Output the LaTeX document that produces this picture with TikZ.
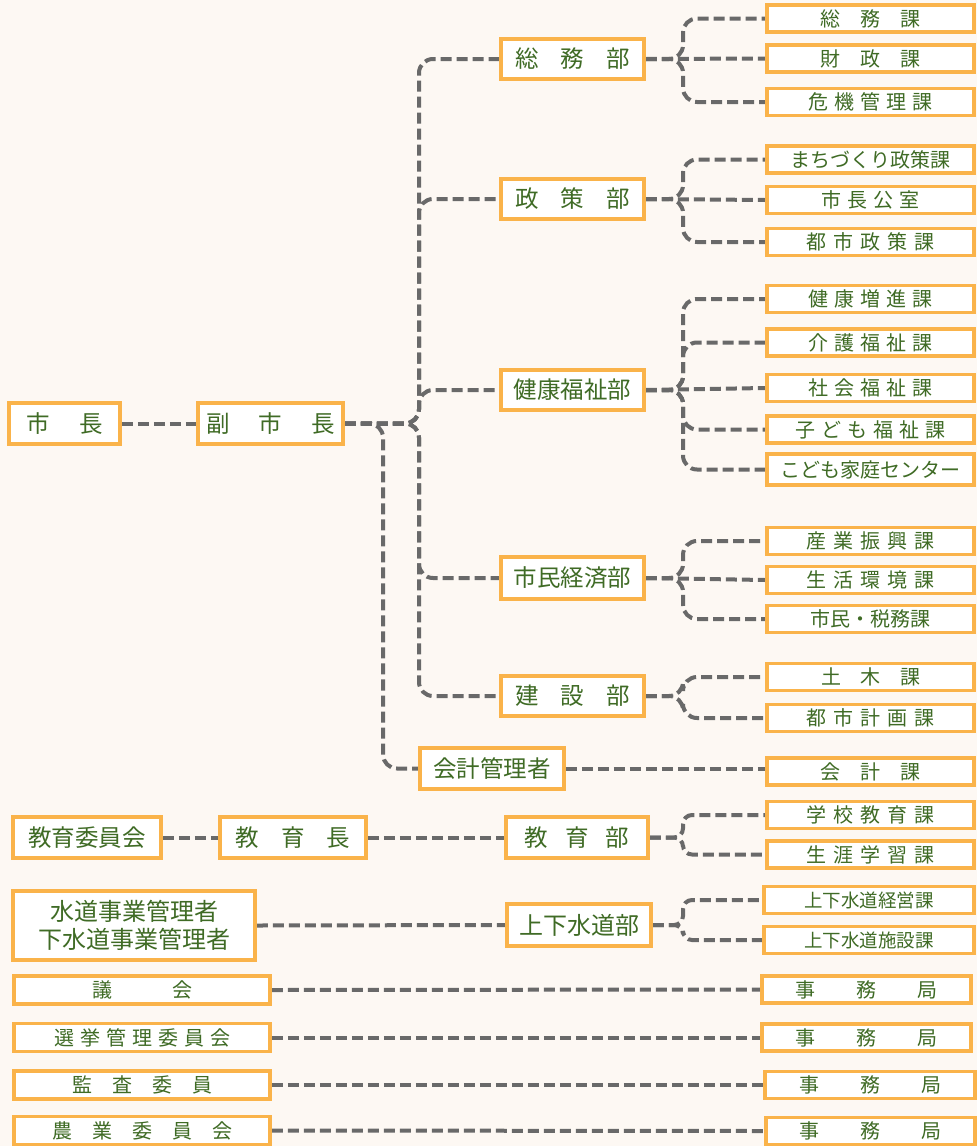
\documentclass[tikz,border=0pt]{standalone}
\usepackage{fontspec}
\setmainfont{Noto Sans CJK JP}
\definecolor{bgc}{HTML}{FDF8F3}
\definecolor{borange}{HTML}{FAB34A}
\definecolor{tgreen}{HTML}{3F6B25}
\definecolor{lgray}{HTML}{696969}
\newcommand{\kgap}[1]{\hspace*{#1pt}}
\pgfdeclarelayer{bglayer}
\pgfdeclarelayer{lineslayer}
\pgfsetlayers{bglayer,lineslayer,main}
\tikzset{
  box/.style={draw=borange, line width=3.8pt, fill=white, inner sep=0pt, text=tgreen,
    font=\fontsize{23.5}{26}\selectfont, minimum width=143pt, minimum height=41pt},
  sec/.style={box, font=\fontsize{20}{24}\selectfont, minimum width=207pt, minimum height=27pt},
  lbox/.style={box, font=\fontsize{20}{24}\selectfont, minimum width=256pt, minimum height=28pt},
  conn/.style={draw=lgray, line width=4pt, dash pattern=on 11pt off 5pt, rounded corners=14pt},
}
\begin{document}
\begin{tikzpicture}[x=1pt,y=-1pt]
\begin{pgfonlayer}{bglayer}
\fill[bgc] (0,0) rectangle (977,1146);
\end{pgfonlayer}
\useasboundingbox (0,0) rectangle (977,1146);
\coordinate (tM) at (419,0);
\coordinate (tK) at (383,0);
\coordinate (tS) at (683,0);
% main chain
\node[box, minimum width=111pt] (shicho) at (64.5,423.5) {市\kgap{30}長};
\node[box, minimum width=145pt] (fuku) at (270.5,423.5) {副\kgap{29}市\kgap{29}長};
\node[box, minimum height=40pt] (somubu) at (572.5,59) {総\kgap{22}務\kgap{22}部};
\node[box, minimum height=40pt] (seisakubu) at (572.5,199) {政\kgap{22}策\kgap{22}部};
\node[box, minimum height=40pt] (kenkobu) at (572.5,390) {健康福祉部};
\node[box, minimum height=42pt] (shiminbu) at (572.5,578) {市民経済部};
\node[box, minimum height=40pt] (kensetsubu) at (572.5,696) {建\kgap{22}設\kgap{22}部};
\node[box, minimum width=144pt] (kaikei) at (492,768.5) {会計管理者};
\node[box, minimum width=148pt] (kyoiin) at (87,837.5) {教育委員会};
\node[box, minimum width=146pt] (kyoikucho) at (293,837.5) {教\kgap{22}育\kgap{22}長};
\node[box, minimum width=142pt] (kyoikubu) at (577,837.5) {教\kgap{17}育\kgap{17}部};
\node[box, minimum width=242pt, minimum height=69pt, align=center, font=\fontsize{24}{27.5}\selectfont] (suido) at (134,925.5) {水道事業管理者\\下水道事業管理者};
\node[box, minimum width=144pt, minimum height=42pt, font=\fontsize{24}{26}\selectfont] (jogebu) at (579,925) {上下水道部};
\node[lbox] (gikai) at (142,990) {議\kgap{60}会};
\node[lbox] (senkyo) at (142,1037.5) {選\kgap{6}挙\kgap{6}管\kgap{6}理\kgap{6}委\kgap{6}員\kgap{6}会};
\node[lbox] (kansa) at (142,1085) {監\kgap{20}査\kgap{20}委\kgap{20}員};
\node[lbox] (nogyo) at (142,1130.5) {農\kgap{20}業\kgap{20}委\kgap{20}員\kgap{20}会};
% sections
\node[sec] (somuka) at (870.5,18.5) {総\kgap{20}務\kgap{20}課};
\node[sec] (zaiseika) at (870.5,58.5) {財\kgap{20}政\kgap{20}課};
\node[sec] (kikika) at (870.5,102) {危\kgap{6}機\kgap{6}管\kgap{6}理\kgap{6}課};
\node[sec] (machika) at (870.5,159.5) {まちづくり政策課};
\node[sec] (shichoko) at (870.5,200) {市\kgap{6}長\kgap{6}公\kgap{6}室};
\node[sec] (toshisei) at (870.5,242) {都\kgap{7}市\kgap{7}政\kgap{7}策\kgap{7}課};
\node[sec] (kenzo) at (870.5,299) {健\kgap{6}康\kgap{6}増\kgap{6}進\kgap{6}課};
\node[sec] (kaigo) at (870.5,342.5) {介\kgap{6}護\kgap{6}福\kgap{6}祉\kgap{6}課};
\node[sec] (shakai) at (870.5,388) {社\kgap{6}会\kgap{6}福\kgap{6}祉\kgap{6}課};
\node[sec] (kodomofuku) at (870.5,429.5) {子\kgap{6}ど\kgap{6}も\kgap{6}福\kgap{6}祉\kgap{6}課};
\node[sec, minimum height=31pt] (kodomokatei) at (870.5,469.5) {こども家庭センター};
\node[sec] (sangyo) at (870.5,541) {産\kgap{7}業\kgap{7}振\kgap{7}興\kgap{7}課};
\node[sec] (seikatsu) at (870.5,580) {生\kgap{7}活\kgap{7}環\kgap{7}境\kgap{7}課};
\node[sec] (zeimu) at (870.5,619) {市民・税務課};
\node[sec] (doboku) at (870.5,677) {土\kgap{19.5}木\kgap{19.5}課};
\node[sec] (toshikei) at (870.5,718) {都\kgap{7}市\kgap{7}計\kgap{7}画\kgap{7}課};
\node[sec] (kaikeika) at (870.5,771.5) {会\kgap{20}計\kgap{20}課};
\node[sec] (gakko) at (870.5,815) {学\kgap{7}校\kgap{7}教\kgap{7}育\kgap{7}課};
\node[sec] (shogai) at (870.5,854.5) {生\kgap{7}涯\kgap{7}学\kgap{7}習\kgap{7}課};
\node[sec, minimum width=210pt, font=\fontsize{18.5}{22}\selectfont] (keiei) at (869,900) {上下水道経営課};
\node[sec, minimum width=210pt, font=\fontsize{18.5}{22}\selectfont] (shisetsu) at (869,940) {上下水道施設課};
\node[sec, minimum width=209pt] (jimu1) at (866.5,989.5) {事\kgap{41}務\kgap{41}局};
\node[sec, minimum width=209pt] (jimu2) at (866.5,1037.5) {事\kgap{41}務\kgap{41}局};
\node[sec, minimum width=210pt] (jimu3) at (870,1085) {事\kgap{41}務\kgap{41}局};
\node[sec, minimum width=209pt] (jimu4) at (870.5,1131) {事\kgap{41}務\kgap{41}局};
% connectors
\begin{pgfonlayer}{lineslayer}
\draw[conn] (shicho.east) -- (fuku.west);
\foreach \d in {somubu,seisakubu,kenkobu,shiminbu,kensetsubu}
  \draw[conn] (fuku.east) -- (fuku.east -| tM) |- (\d.west);
\draw[conn] (fuku.east) -- (fuku.east -| tK) |- (kaikei.west);
\draw[conn] (kaikei.east) -- (kaikeika.west |- kaikei.east);
% somubu
\draw[conn] (somubu.east) -- (somubu.east -| tS) |- (somuka.west);
\draw[conn] (somubu.east) -- (zaiseika.west);
\draw[conn] (somubu.east) -- (somubu.east -| tS) |- (kikika.west);
% seisakubu
\draw[conn] (seisakubu.east) -- (seisakubu.east -| tS) |- (machika.west);
\draw[conn] (seisakubu.east) -- (shichoko.west);
\draw[conn] (seisakubu.east) -- (seisakubu.east -| tS) |- (toshisei.west);
% kenkobu
\draw[conn] (kenkobu.east) -- (kenkobu.east -| tS) |- (kenzo.west);
\draw[conn] (kenkobu.east) -- (kenkobu.east -| tS) |- (kaigo.west);
\draw[conn] (kenkobu.east) -- (shakai.west);
\draw[conn] (kenkobu.east) -- (kenkobu.east -| tS) |- (kodomofuku.west);
\draw[conn] (kenkobu.east) -- (kenkobu.east -| tS) |- (kodomokatei.west);
% shiminbu
\draw[conn] (shiminbu.east) -- (shiminbu.east -| tS) |- (sangyo.west);
\draw[conn] (shiminbu.east) -- (seikatsu.west);
\draw[conn] (shiminbu.east) -- (shiminbu.east -| tS) |- (zeimu.west);
% kensetsubu
\draw[conn] (kensetsubu.east) -- (kensetsubu.east -| tS) |- (doboku.west);
\draw[conn] (kensetsubu.east) -- (kensetsubu.east -| tS) |- (toshikei.west);
% education
\draw[conn] (kyoiin.east) -- (kyoikucho.west);
\draw[conn] (kyoikucho.east) -- (kyoikubu.west);
\draw[conn, rounded corners=9pt] (kyoikubu.east) -- (kyoikubu.east -| tS) |- (gakko.west);
\draw[conn, rounded corners=9pt] (kyoikubu.east) -- (kyoikubu.east -| tS) |- (shogai.west);
% water
\draw[conn] (suido.east) -- (jogebu.west);
\draw[conn, rounded corners=9pt] (jogebu.east) -- (jogebu.east -| tS) |- (keiei.west);
\draw[conn, rounded corners=9pt] (jogebu.east) -- (jogebu.east -| tS) |- (shisetsu.west);
% committees
\draw[conn] (gikai.east) -- (jimu1.west);
\draw[conn] (senkyo.east) -- (jimu2.west);
\draw[conn] (kansa.east) -- (jimu3.west);
\draw[conn] (nogyo.east) -- (jimu4.west);
\end{pgfonlayer}
\end{tikzpicture}
\end{document}
